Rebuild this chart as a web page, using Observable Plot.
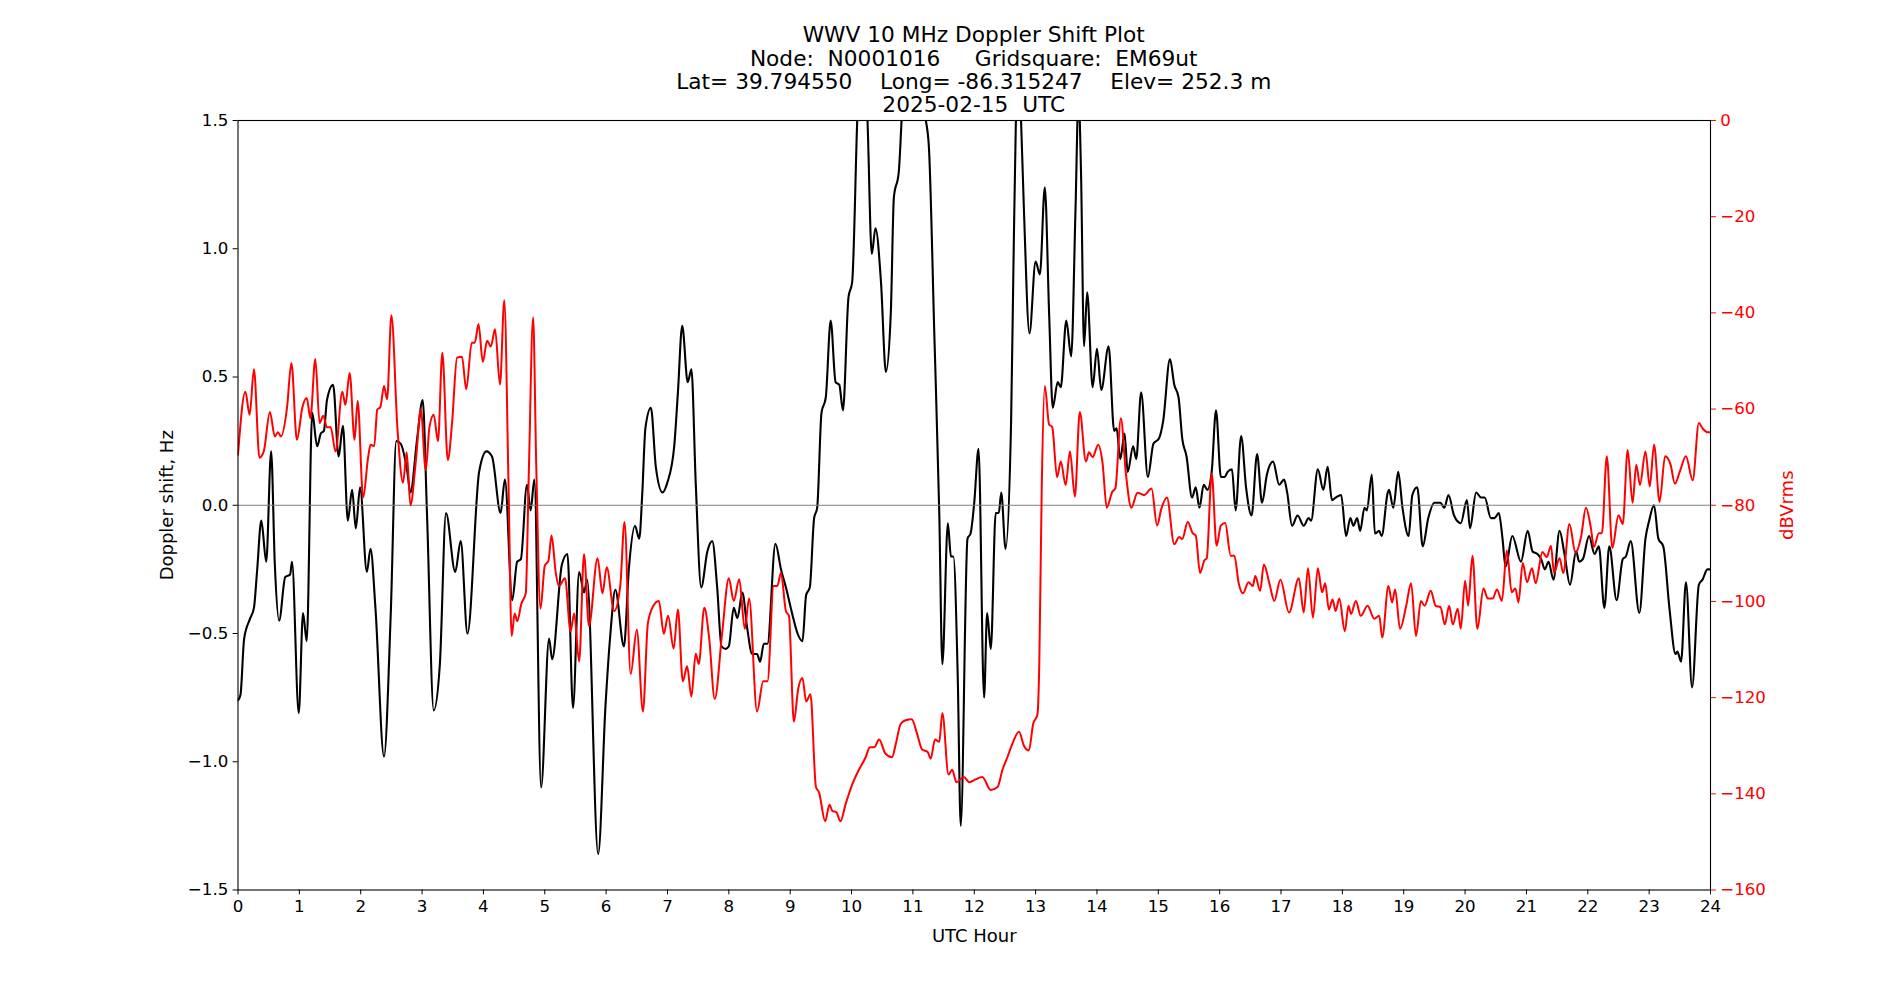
<!DOCTYPE html>
<html><head><meta charset="utf-8">
<script src="https://cdn.jsdelivr.net/npm/d3@7"></script>
<script src="https://cdn.jsdelivr.net/npm/@observablehq/plot@0.6"></script>
<style>
html,body{margin:0;padding:0;background:#fff;overflow:hidden;}
body{width:1900px;height:1000px;font-family:"DejaVu Sans",sans-serif;}
#head{position:relative;height:110px;}
#title{position:absolute;top:23.4px;left:47.5px;width:1852.5px;text-align:center;font-size:21.7px;line-height:23.2px;white-space:pre;color:#000;}
#chart svg{display:block;}
</style></head>
<body>
<div id="head"><div id="title"></div></div>
<div id="chart"></div>
<script>
const titleLines = [
  "WWV 10 MHz Doppler Shift Plot",
  "Node:  N0001016     Gridsquare:  EM69ut",
  "Lat= 39.794550    Long= -86.315247    Elev= 252.3 m",
  "2025-02-15  UTC"
];
const xLabel = "UTC Hour";
const yLabelLeft = "Doppler shift, Hz";
const yLabelRight = "dBVrms";
const hourTicks = d3.range(0, 25);
const hzTicks = [-1.5, -1.0, -0.5, 0.0, 0.5, 1.0, 1.5];
const dbTicks = [0, -20, -40, -60, -80, -100, -120, -140, -160];

// Doppler shift (Hz) — black
const dopplerHours = [0.00,0.04,0.10,0.20,0.26,0.31,0.38,0.46,0.54,0.60,0.67,0.77,0.85,0.88,0.99,1.06,1.12,1.21,1.29,1.35,1.40,1.45,1.55,1.64,1.71,1.79,1.86,1.92,1.99,2.10,2.16,2.24,2.38,2.49,2.58,2.65,2.76,2.81,2.92,3.01,3.08,3.19,3.29,3.39,3.54,3.63,3.74,3.93,4.05,4.14,4.28,4.35,4.47,4.55,4.61,4.71,4.77,4.83,4.94,5.07,5.12,5.28,5.37,5.46,5.56,5.64,5.69,5.87,5.99,6.07,6.15,6.29,6.37,6.47,6.54,6.59,6.64,6.73,6.81,6.92,7.00,7.11,7.17,7.24,7.33,7.39,7.46,7.55,7.65,7.73,7.81,7.88,7.95,8.00,8.08,8.14,8.22,8.30,8.38,8.46,8.51,8.57,8.63,8.76,8.85,8.93,9.05,9.12,9.20,9.26,9.32,9.39,9.44,9.51,9.58,9.66,9.74,9.80,9.86,9.95,10.01,10.10,10.18,10.26,10.33,10.39,10.48,10.56,10.64,10.69,10.77,10.82,11.00,11.20,11.26,11.35,11.43,11.48,11.57,11.62,11.66,11.73,11.78,11.89,11.94,12.00,12.07,12.16,12.21,12.27,12.35,12.40,12.44,12.51,12.60,12.64,12.68,12.72,12.76,12.81,12.90,13.00,13.07,13.15,13.22,13.28,13.36,13.41,13.50,13.58,13.65,13.70,13.74,13.79,13.84,13.93,14.00,14.07,14.19,14.28,14.32,14.38,14.45,14.50,14.59,14.64,14.72,14.83,14.92,15.01,15.08,15.19,15.26,15.33,15.39,15.46,15.55,15.61,15.67,15.74,15.80,15.87,15.94,16.02,16.08,16.13,16.20,16.26,16.35,16.43,16.52,16.61,16.69,16.77,16.87,16.97,17.05,17.10,17.18,17.27,17.37,17.45,17.49,17.60,17.69,17.76,17.83,17.89,17.98,18.06,18.13,18.18,18.24,18.29,18.36,18.40,18.48,18.53,18.60,18.64,18.74,18.76,18.83,18.91,18.98,19.08,19.14,19.22,19.31,19.40,19.50,19.60,19.66,19.73,19.82,19.93,20.03,20.08,20.18,20.26,20.32,20.42,20.48,20.55,20.61,20.66,20.77,20.91,21.02,21.10,21.18,21.24,21.30,21.36,21.44,21.54,21.62,21.71,21.81,21.86,21.92,22.02,22.11,22.18,22.27,22.35,22.47,22.57,22.62,22.70,22.84,22.94,23.00,23.08,23.15,23.23,23.33,23.43,23.46,23.52,23.60,23.70,23.81,23.87,23.95,24.00];
const dopplerHz = [-0.76,-0.74,-0.52,-0.44,-0.40,-0.26,-0.06,-0.22,0.21,-0.23,-0.45,-0.28,-0.27,-0.22,-0.81,-0.42,-0.53,0.36,0.23,0.28,0.29,0.41,0.47,0.19,0.31,-0.06,0.06,-0.09,0.07,-0.26,-0.17,-0.40,-0.98,-0.42,0.25,0.24,0.13,0.05,0.26,0.41,-0.03,-0.80,-0.62,-0.03,-0.26,-0.14,-0.50,0.13,0.21,0.19,-0.03,0.10,-0.37,-0.22,-0.21,0.08,-0.02,0.10,-1.10,-0.52,-0.60,-0.23,-0.19,-0.79,-0.26,-0.34,-0.29,-1.36,-0.78,-0.50,-0.33,-0.55,-0.25,-0.08,-0.13,0.05,0.30,0.38,0.15,0.05,0.09,0.23,0.44,0.70,0.48,0.53,0.09,-0.32,-0.18,-0.14,-0.32,-0.55,-0.56,-0.55,-0.40,-0.44,-0.34,-0.48,-0.58,-0.58,-0.61,-0.54,-0.54,-0.15,-0.25,-0.32,-0.44,-0.50,-0.53,-0.35,-0.32,-0.05,-0.01,0.36,0.42,0.72,0.48,0.47,0.37,0.81,0.87,1.55,1.85,1.50,0.98,1.08,0.87,0.52,0.75,1.20,1.30,1.52,2.10,1.52,1.40,0.66,-0.03,-0.62,-0.07,-0.20,-0.20,-0.66,-1.25,-0.13,-0.11,0.01,0.22,-0.75,-0.42,-0.56,-0.03,-0.03,0.05,-0.17,0.32,0.95,1.52,1.75,1.52,1.15,0.67,0.95,0.90,1.24,0.75,0.38,0.48,0.46,0.72,0.58,1.15,1.60,1.30,0.62,0.83,0.46,0.61,0.45,0.62,0.29,0.30,0.18,0.28,0.13,0.23,0.18,0.44,0.11,0.24,0.26,0.33,0.57,0.47,0.42,0.26,0.19,0.03,0.07,-0.01,0.08,0.06,0.13,0.37,0.11,0.11,0.13,0.14,-0.02,0.27,0.07,-0.04,0.20,0.01,0.12,0.17,0.08,0.10,0.05,-0.08,-0.04,-0.08,-0.05,-0.06,0.14,0.06,0.15,0.02,0.03,0.04,-0.12,-0.05,-0.08,-0.05,-0.10,-0.01,-0.02,0.12,-0.11,-0.10,-0.12,0.05,0.06,-0.01,0.13,-0.01,-0.12,0.04,0.07,-0.16,-0.05,0.01,0.01,-0.01,0.04,-0.04,-0.07,0.02,-0.09,0.05,0.03,0.03,-0.05,-0.05,-0.03,-0.13,-0.24,-0.12,-0.22,-0.10,-0.18,-0.19,-0.21,-0.25,-0.22,-0.29,-0.10,-0.19,-0.31,-0.18,-0.22,-0.21,-0.12,-0.19,-0.16,-0.40,-0.16,-0.37,-0.21,-0.20,-0.14,-0.42,-0.13,-0.06,0.00,-0.13,-0.16,-0.40,-0.58,-0.57,-0.61,-0.30,-0.71,-0.31,-0.29,-0.25,-0.25];

// Signal level (dBVrms) — red
const signalHours = [0.00,0.12,0.19,0.26,0.35,0.42,0.52,0.60,0.65,0.70,0.80,0.87,0.96,1.05,1.12,1.18,1.26,1.33,1.39,1.45,1.51,1.59,1.70,1.75,1.82,1.90,1.95,2.04,2.12,2.16,2.22,2.27,2.32,2.38,2.43,2.50,2.60,2.69,2.75,2.81,2.90,2.98,3.06,3.12,3.19,3.26,3.33,3.42,3.49,3.57,3.65,3.72,3.81,3.86,3.92,3.99,4.06,4.12,4.19,4.27,4.34,4.41,4.46,4.51,4.55,4.62,4.69,4.74,4.81,4.86,4.93,5.00,5.06,5.11,5.18,5.23,5.33,5.42,5.48,5.56,5.64,5.72,5.86,5.94,6.01,6.13,6.23,6.30,6.40,6.50,6.60,6.68,6.77,6.86,6.94,7.01,7.10,7.17,7.25,7.32,7.39,7.46,7.51,7.60,7.68,7.77,7.89,8.00,8.08,8.17,8.26,8.33,8.46,8.56,8.63,8.73,8.79,8.85,8.93,8.98,9.06,9.13,9.20,9.26,9.33,9.42,9.47,9.57,9.64,9.69,9.75,9.82,9.90,10.01,10.12,10.23,10.30,10.37,10.45,10.55,10.66,10.72,10.80,10.88,10.98,11.07,11.15,11.24,11.29,11.36,11.43,11.48,11.58,11.64,11.71,11.83,11.92,12.02,12.13,12.27,12.38,12.46,12.54,12.60,12.73,12.81,12.89,12.96,13.03,13.06,13.10,13.15,13.22,13.27,13.35,13.41,13.49,13.56,13.64,13.72,13.82,13.87,13.93,14.02,14.09,14.16,14.25,14.30,14.39,14.47,14.56,14.66,14.77,14.89,14.98,15.05,15.14,15.26,15.34,15.39,15.48,15.56,15.61,15.68,15.75,15.79,15.87,15.95,16.02,16.09,16.18,16.24,16.31,16.38,16.47,16.54,16.58,16.66,16.72,16.81,16.89,16.99,17.13,17.29,17.37,17.44,17.52,17.60,17.67,17.72,17.78,17.84,17.89,17.95,18.04,18.10,18.14,18.22,18.30,18.41,18.52,18.60,18.65,18.75,18.81,18.86,18.94,19.04,19.12,19.20,19.28,19.34,19.44,19.52,19.60,19.67,19.74,19.80,19.88,19.93,20.00,20.05,20.12,20.20,20.30,20.37,20.45,20.52,20.60,20.68,20.76,20.82,20.87,20.94,21.01,21.09,21.15,21.26,21.33,21.40,21.45,21.54,21.60,21.70,21.80,21.89,21.97,22.05,22.10,22.18,22.23,22.31,22.40,22.50,22.57,22.65,22.73,22.79,22.85,22.94,23.01,23.08,23.17,23.26,23.35,23.42,23.50,23.60,23.71,23.81,23.87,23.95,24.00];
const signalDb = [-69.5,-56.4,-61.2,-51.7,-70.1,-68.8,-60.6,-65.7,-64.8,-65.7,-59.6,-50.4,-66.4,-59.6,-57.7,-61.9,-49.6,-62.9,-61.4,-63.8,-63.8,-68.8,-56.4,-59.1,-52.5,-66.4,-58.3,-78.4,-70.1,-67.4,-67.7,-60.1,-59.6,-55.2,-58.0,-40.5,-64.3,-75.3,-69.0,-80.0,-70.6,-60.1,-72.7,-63.8,-61.2,-66.7,-48.3,-70.6,-62.7,-49.3,-49.1,-55.9,-46.2,-46.2,-42.3,-50.2,-45.8,-47.0,-43.4,-54.9,-37.4,-76.3,-107.2,-102.5,-104.1,-100.4,-98.3,-73.2,-40.9,-71.1,-101.5,-92.6,-91.5,-86.3,-94.1,-96.8,-95.2,-106.2,-102.5,-112.5,-90.2,-105.1,-91.0,-98.3,-92.9,-102.0,-96.8,-83.5,-115.1,-105.9,-122.9,-104.6,-100.9,-99.9,-106.7,-103.0,-109.8,-101.7,-116.6,-113.5,-119.8,-110.9,-113.0,-101.3,-107.7,-120.3,-106.7,-95.2,-99.9,-95.4,-105.7,-99.4,-122.9,-116.6,-116.6,-96.8,-96.8,-94.1,-102.0,-103.0,-125.0,-118.2,-115.9,-120.8,-119.3,-138.6,-139.7,-145.7,-142.3,-143.6,-143.8,-145.7,-142.3,-138.1,-135.0,-132.4,-130.3,-130.3,-128.7,-131.6,-132.4,-129.7,-125.5,-124.7,-124.5,-127.6,-130.8,-131.3,-132.7,-128.7,-129.2,-123.2,-136.0,-135.0,-137.6,-136.5,-137.6,-137.0,-136.5,-139.2,-138.6,-135.0,-132.4,-130.3,-127.1,-130.0,-131.0,-125.5,-123.5,-113.0,-76.3,-55.2,-63.2,-63.7,-74.2,-70.9,-75.8,-68.8,-78.2,-60.6,-70.9,-69.0,-70.0,-67.4,-71.1,-80.5,-77.2,-76.5,-61.9,-73.2,-80.5,-77.4,-77.9,-76.5,-84.2,-80.7,-78.4,-88.1,-86.6,-87.0,-83.5,-85.8,-86.3,-94.1,-91.5,-91.0,-73.4,-88.4,-84.2,-83.7,-90.5,-90.5,-96.2,-98.3,-96.0,-96.8,-94.7,-97.8,-92.3,-96.2,-99.9,-95.5,-102.3,-95.2,-102.3,-93.1,-103.4,-93.1,-98.1,-96.2,-101.7,-99.6,-102.0,-99.4,-106.2,-100.9,-102.6,-99.9,-103.0,-100.9,-103.6,-103.0,-107.5,-96.8,-100.2,-97.5,-105.7,-100.9,-96.2,-107.2,-99.9,-100.9,-97.8,-100.9,-101.2,-104.8,-100.9,-104.8,-101.5,-105.7,-95.7,-100.9,-90.5,-105.7,-97.3,-99.4,-99.4,-97.5,-99.9,-89.4,-98.1,-97.3,-100.2,-92.0,-96.0,-93.1,-96.2,-89.7,-90.8,-88.4,-94.1,-91.0,-94.1,-83.9,-89.9,-86.6,-80.5,-84.7,-88.7,-85.8,-85.8,-69.8,-88.9,-82.1,-83.9,-68.5,-79.5,-71.6,-75.8,-68.8,-76.1,-67.4,-79.3,-69.8,-71.6,-75.5,-73.0,-69.8,-74.8,-62.9,-64.0,-64.8,-64.8];

document.getElementById("title").textContent = titleLines.join("\n");

// right (dB) axis mapped onto the left (Hz) axis: -160..0 dB  <->  -1.5..1.5 Hz
const dbToHz = db => (db + 80) * 3 / 160;
const hzToDb = hz => hz * 160 / 3 - 80;

const doppler = dopplerHours.map((h, i) => ({h, v: dopplerHz[i]}));
const signal = signalHours.map((h, i) => ({h, v: dbToHz(signalDb[i])}));

const fmtHz = d3.format(".1f");
const fmtDb = d => d3.format("d")(Math.round(hzToDb(d)));

const tk = 4.86;
const tickFont = 16.67;
const labelFont = 18;
const chart = Plot.plot({
  width: 1900,
  height: 890,
  marginTop: 10,
  marginLeft: 237.5,
  marginRight: 190,
  marginBottom: 110.5,
  style: {fontFamily: "DejaVu Sans", fontSize: tickFont + "px", background: "#fff", color: "#000"},
  x: {domain: [0, 24]},
  y: {domain: [-1.5, 1.5]},
  marks: [
    Plot.line(doppler, {x: "h", y: "v", stroke: "#000", strokeWidth: 2.1, curve: "monotone-x", clip: "frame", strokeLinejoin: "round"}),
    Plot.ruleY([0], {stroke: "#808080", strokeWidth: 1}),
    Plot.line(signal, {x: "h", y: "v", stroke: "#ff0000", strokeWidth: 2.0, curve: "monotone-x", clip: "frame", strokeLinejoin: "round"}),
    Plot.frame({stroke: "#000", strokeWidth: 1.1}),
    Plot.axisX({ticks: hourTicks, tickFormat: d3.format("d"), tickSize: tk, tickPadding: tk, fontSize: tickFont, label: null}),
    Plot.axisX({ticks: [], tickSize: 0, label: xLabel, labelAnchor: "center", labelOffset: 52, labelArrow: "none", fontSize: labelFont}),
    Plot.axisY({anchor: "left", ticks: hzTicks, tickFormat: fmtHz, tickSize: tk, tickPadding: tk, fontSize: tickFont, label: null}),
    Plot.axisY({anchor: "left", ticks: [], tickSize: 0, label: yLabelLeft, labelAnchor: "center", labelOffset: 78, labelArrow: "none", fontSize: labelFont}),
    Plot.axisY({anchor: "right", ticks: dbTicks.map(dbToHz), tickFormat: fmtDb, tickSize: tk, tickPadding: tk, color: "#ff0000", fontSize: tickFont, label: null}),
    Plot.axisY({anchor: "right", ticks: [], tickSize: 0, color: "#ff0000", label: yLabelRight, labelAnchor: "center", labelOffset: 82, labelArrow: "none", fontSize: labelFont})
  ]
});
document.getElementById("chart").appendChild(chart);
</script>
</body></html>
